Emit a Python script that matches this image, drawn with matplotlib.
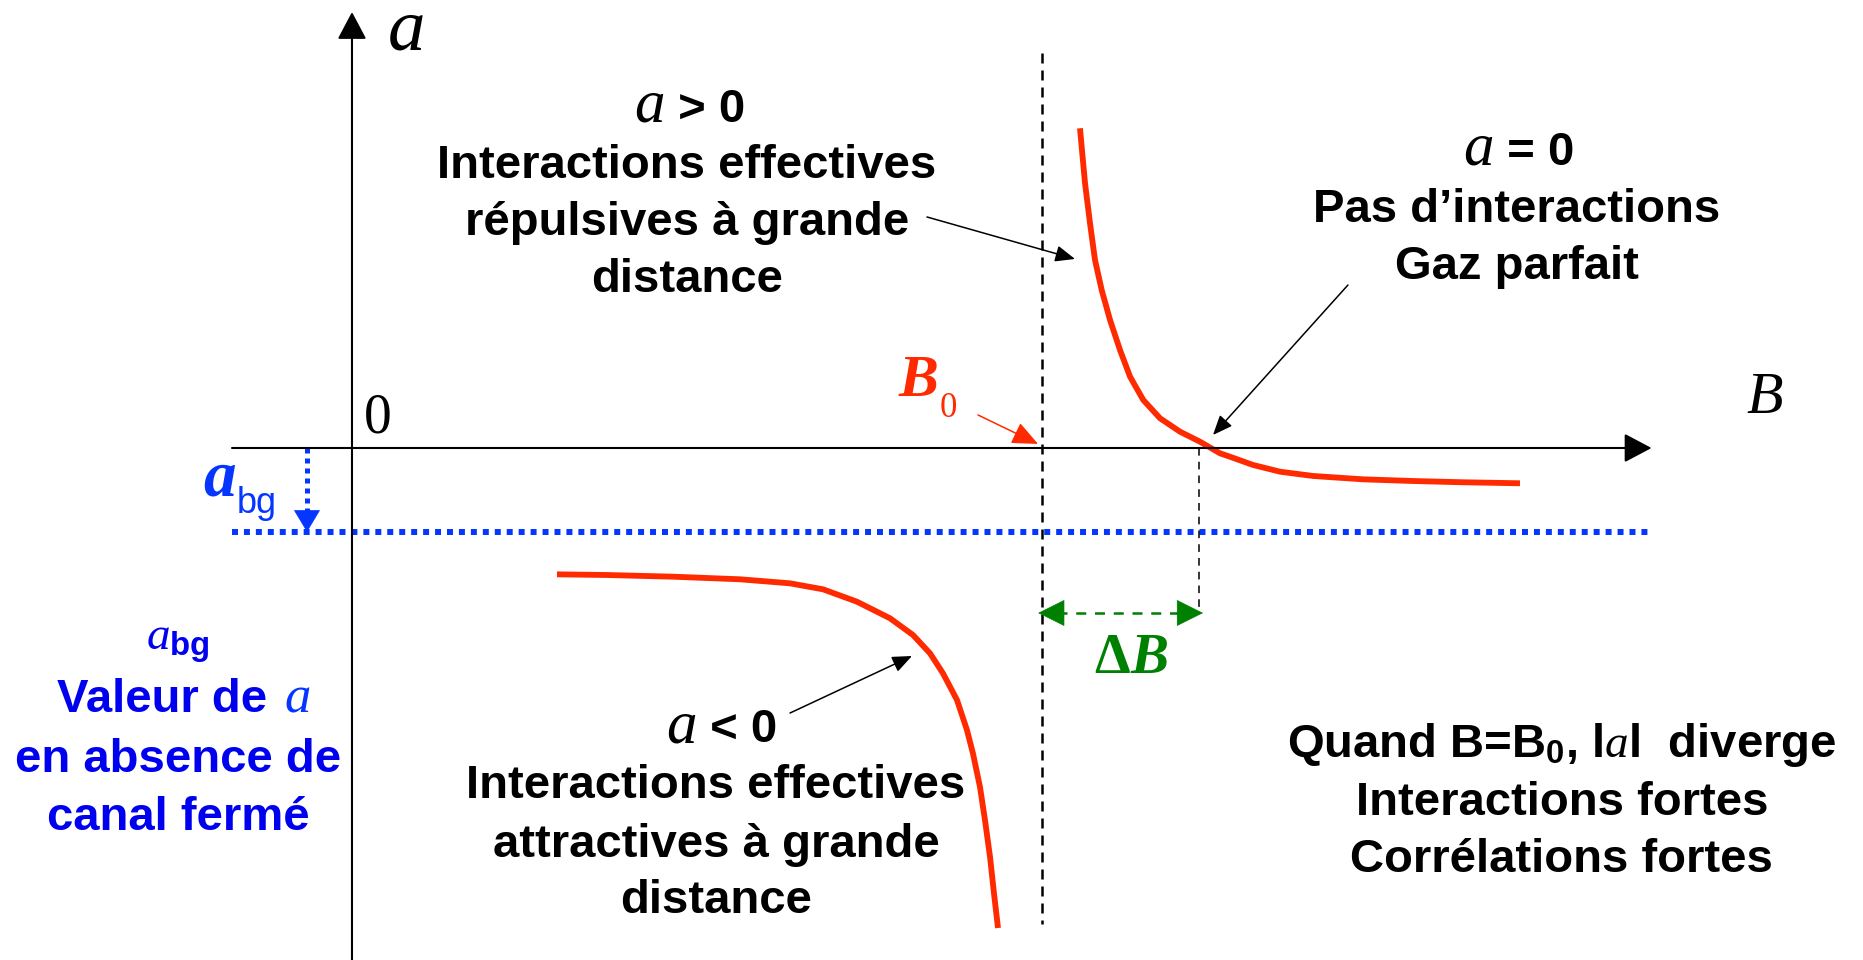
import matplotlib.pyplot as plt

# mathtext: italic letters in serif, roman/subscripts in bold sans
plt.rcParams['mathtext.fontset'] = 'custom'
plt.rcParams['mathtext.it'] = 'Liberation Serif:italic'
plt.rcParams['mathtext.rm'] = 'Liberation Sans:bold'
plt.rcParams['mathtext.bf'] = 'Liberation Sans:bold'

# resonance parameters (arbitrary units)
B0 = 9.0
delta_B = 2.05
a_bg = -1.0

# scattering length above the resonance (B > B0)
B_up = [9.495, 9.561, 9.626, 9.691, 9.778, 9.887, 10.017, 10.148, 10.321,
        10.539, 10.800, 11.060, 11.321, 11.452, 11.752, 12.104, 12.534,
        13.186, 13.839, 14.491, 15.234]
a_up = [3.806, 3.151, 2.675, 2.238, 1.881, 1.524, 1.167, 0.849, 0.571,
        0.354, 0.194, 0.075, -0.063, -0.104, -0.202, -0.282, -0.333,
        -0.373, -0.393, -0.408, -0.420]

# scattering length below the resonance (B < B0)
B_low = [2.674, 3.326, 4.187, 5.061, 5.713, 6.143, 6.587, 7.017, 7.317,
         7.539, 7.708, 7.891, 8.021, 8.100, 8.191, 8.256, 8.322, 8.374, 8.426]
a_low = [-1.504, -1.512, -1.532, -1.563, -1.611, -1.682, -1.830, -2.027,
         -2.226, -2.444, -2.682, -3.000, -3.357, -3.639, -4.036, -4.429,
         -4.869, -5.306, -5.714]

RED = '#FF2A00'
BLUE = '#0536FF'
BLUE_TXT = '#0000F0'
GREEN = '#008000'

fig = plt.figure(figsize=(18.63, 9.6), dpi=100)
ax = fig.add_axes([0, 0, 1, 1])
ax.set_xlim(-4.591, 19.708)
ax.set_ylim(-6.095, 5.333)
ax.axis('off')

def arrow(xy, xytext, color='k', lw=1.1, hl=0.6, hw=0.25, ms=20):
    ax.annotate('', xy=xy, xytext=xytext,
                arrowprops=dict(arrowstyle='-|>,head_length=%g,head_width=%g' % (hl, hw),
                                mutation_scale=ms, lw=lw, color=color,
                                shrinkA=0, shrinkB=0))

# axes
arrow((16.95, 0), (-1.565, 0), lw=1.5, hl=0.85, hw=0.45)
arrow((0, 5.19), (0, -6.2), lw=1.5, hl=0.85, hw=0.45)

# background value a_bg
ax.plot([-1.565, 16.95], [a_bg, a_bg], color=BLUE, lw=4.3, dashes=(1, 1),
        solid_capstyle='butt', dash_capstyle='butt')
ax.plot([-0.587, -0.587], [0, a_bg + 0.17], color=BLUE, lw=3.6, dashes=(1, 1),
        dash_capstyle='butt')
arrow((-0.587, a_bg), (-0.587, a_bg + 0.2), color=BLUE, lw=0.5, hl=0.75, hw=0.45)

# resonance position and width
ax.plot([B0, B0], [4.70, -5.67], color='k', lw=1.8, dashes=(4, 2.8))
ax.plot([B0 + delta_B, B0 + delta_B], [0, -1.964], color='k', lw=1.1, dashes=(5, 4))
ax.plot([B0 + 0.2, B0 + delta_B - 0.2], [-1.964, -1.964], color=GREEN, lw=1.8,
        dashes=(4, 3.5))
arrow((B0 - 0.05, -1.964), (B0 + 0.3, -1.964), color=GREEN, lw=0.5, hl=0.9, hw=0.45)
arrow((B0 + delta_B + 0.05, -1.964), (B0 + delta_B - 0.3, -1.964), color=GREEN,
      lw=0.5, hl=0.9, hw=0.45)

# a(B)
ax.plot(B_up, a_up, color=RED, lw=4.2, solid_capstyle='butt', solid_joinstyle='round')
ax.plot(B_low, a_low, color=RED, lw=4.2, solid_capstyle='butt', solid_joinstyle='round')

# axis labels
ax.text(0.717, 4.738, 'a', family='Liberation Serif', style='italic', size=54,
        ha='center', va='baseline')
ax.text(18.43, 0.417, 'B', family='Liberation Serif', style='italic', size=43,
        ha='center', va='baseline')
ax.text(0.339, 0.19, '0', family='Liberation Serif', size=40,
        ha='center', va='baseline')

# B0 label
ax.text(7.395, 0.619, 'B', family='Liberation Serif', style='italic',
        weight='bold', size=43, color=RED, ha='center', va='baseline')
ax.text(7.774, 0.369, '0', family='Liberation Serif', size=25, color=RED,
        ha='center', va='baseline')
arrow((8.948, 0.048), (8.165, 0.393), color=RED, lw=1.1, hl=0.8, hw=0.35)

# Delta B label
ax.text(10.148, -2.679, 'Δ', family='Liberation Serif', weight='bold', size=41,
        color=GREEN, ha='right', va='baseline')
ax.text(10.148, -2.679, 'B', family='Liberation Serif', style='italic',
        weight='bold', size=41, color=GREEN, ha='left', va='baseline')

# a_bg label near the arrow
ax.text(-1.722, -0.560, 'a', family='Liberation Serif', style='italic',
        weight='bold', size=47, color=BLUE, ha='center', va='baseline')
ax.text(-1.500, -0.774, 'bg', family='Liberation Sans', size=26, color=BLUE,
        ha='left', va='baseline')

SANS = dict(family='Liberation Sans', weight='bold', size=34, ha='center',
            va='baseline')

def header(x, y, rest):
    ax.text(x, y, 'a', family='Liberation Serif', style='italic', size=44,
            ha='right', va='baseline')
    ax.text(x, y, rest, family='Liberation Sans', weight='bold', size=34,
            ha='left', va='baseline')

# a > 0
header(4.083, 3.881, ' > 0')
for s, y in zip(['Interactions effectives', 'répulsives à grande', 'distance'],
                [3.214, 2.536, 1.857]):
    ax.text(4.369, y, s, **SANS)
arrow((9.43, 2.25), (7.50, 2.75))

# a = 0
header(14.895, 3.369, ' = 0')
for s, y in zip(['Pas d’interactions', 'Gaz parfait'], [2.690, 2.012]):
    ax.text(15.195, y, s, **SANS)
arrow((11.23, 0.155), (12.99, 1.94))

# a < 0
header(4.50, -3.5, ' < 0')
for s, y in zip(['Interactions effectives', 'attractives à grande', 'distance'],
                [-4.167, -4.869, -5.536]):
    ax.text(4.748, y, s, **SANS)
arrow((7.304, -2.476), (5.713, -3.155))

# strong interaction regime
for s, y in zip([r'Quand B=B$_0$, l$a$l  diverge', 'Interactions fortes',
                 'Corrélations fortes'], [-3.679, -4.369, -5.048]):
    ax.text(15.78, y, s, **SANS)

# background scattering length caption
ax.text(-2.27, -2.405, r'$a_{\mathrm{bg}}$', color=BLUE_TXT, **SANS)
ax.text(-1.109, -3.143, 'Valeur de', color=BLUE_TXT, family='Liberation Sans',
        weight='bold', size=34, ha='right', va='baseline')
ax.text(-0.887, -3.143, 'a', color=BLUE, family='Liberation Serif',
        style='italic', size=38, ha='left', va='baseline')
for s, y in zip(['en absence de', 'canal fermé'], [-3.857, -4.548]):
    ax.text(-2.27, y, s, color=BLUE_TXT, **SANS)

fig.savefig('out.png', dpi=100)
